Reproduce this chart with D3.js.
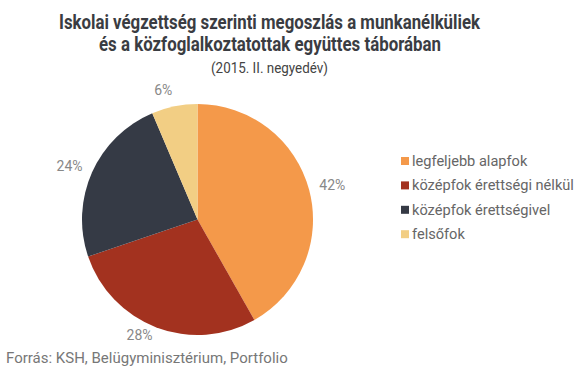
<!DOCTYPE html>
<html>
<head>
<meta charset="utf-8">
<script src="https://cdn.jsdelivr.net/npm/d3@7"></script>
<style>
  html, body { margin: 0; padding: 0; background: #fff; }
  svg { display: block; font-family: Roboto, "Noto Sans", sans-serif; }
</style>
</head>
<body>
<svg id="chart" width="584" height="374"></svg>
<script>
// data
const categories = ["legfeljebb alapfok", "középfok érettségi nélkül", "középfok érettségivel", "felsőfok"];
const shares = [41.8, 28.0, 23.8, 6.4];
const colors = ["#F4994A", "#A3321F", "#353A45", "#F2CE84"];

const titleLines = ["Iskolai végzettség szerinti megoszlás a munkanélküliek", "és a közfoglalkoztatottak együttes táborában"];
const subtitle = "(2015. II. negyedév)";
const source = "Forrás: KSH, Belügyminisztérium, Portfolio";

const svg = d3.select("#chart");
const cx = 197.5, cy = 219.5, radius = 115.5;

// title (narrow bold face in the original, so squeeze to the measured widths)
svg.append("text")
  .attr("x", 269.5).attr("y", 28.5)
  .attr("text-anchor", "middle")
  .attr("font-size", 19.5).attr("font-weight", 700)
  .attr("fill", "#3a3c42")
  .attr("textLength", 421).attr("lengthAdjust", "spacingAndGlyphs")
  .text(titleLines[0]);
svg.append("text")
  .attr("x", 270).attr("y", 51)
  .attr("text-anchor", "middle")
  .attr("font-size", 19.5).attr("font-weight", 700)
  .attr("fill", "#3a3c42")
  .attr("textLength", 342).attr("lengthAdjust", "spacingAndGlyphs")
  .text(titleLines[1]);
svg.append("text")
  .attr("x", 269.5).attr("y", 72.5)
  .attr("text-anchor", "middle")
  .attr("font-size", 14)
  .attr("fill", "#444")
  .attr("textLength", 117).attr("lengthAdjust", "spacingAndGlyphs")
  .text(subtitle);

// pie
const pie = d3.pie().sort(null).value(d => d);
const arcs = pie(shares);
const arc = d3.arc().innerRadius(0).outerRadius(radius);

const g = svg.append("g").attr("transform", `translate(${cx},${cy})`);
g.selectAll("path")
  .data(arcs)
  .join("path")
  .attr("d", arc)
  .attr("fill", (d, i) => colors[i]);

// percent labels outside the slices
const labelR = 126;
g.selectAll("text.pct")
  .data(arcs)
  .join("text")
  .attr("class", "pct")
  .each(function(d) {
    const a = (d.startAngle + d.endAngle) / 2;
    const x = Math.sin(a) * labelR;
    const y = -Math.cos(a) * labelR;
    d3.select(this)
      .attr("x", x)
      .attr("y", y - 2 - (Math.cos(a) > 0.9 ? 4 : 0))
      .attr("dominant-baseline", "central")
      .attr("text-anchor", Math.sin(a) < 0 ? "end" : "start");
  })
  .attr("font-size", 14)
  .attr("fill", "#888")
  .text(d => Math.round(d.data) + "%");

// legend
const legend = svg.append("g").attr("transform", "translate(401,161)");
const rows = legend.selectAll("g")
  .data(categories)
  .join("g")
  .attr("transform", (d, i) => `translate(0,${i * 24.4})`);
rows.append("rect")
  .attr("x", 0).attr("y", -4)
  .attr("width", 8).attr("height", 8)
  .attr("fill", (d, i) => colors[i]);
rows.append("text")
  .attr("x", 11).attr("y", 0)
  .attr("dominant-baseline", "central")
  .attr("font-size", 14.6)
  .attr("fill", "#666")
  .text(d => d);

// source
svg.append("text")
  .attr("x", 6).attr("y", 363)
  .attr("font-size", 15)
  .attr("fill", "#777")
  .text(source);
</script>
</body>
</html>
